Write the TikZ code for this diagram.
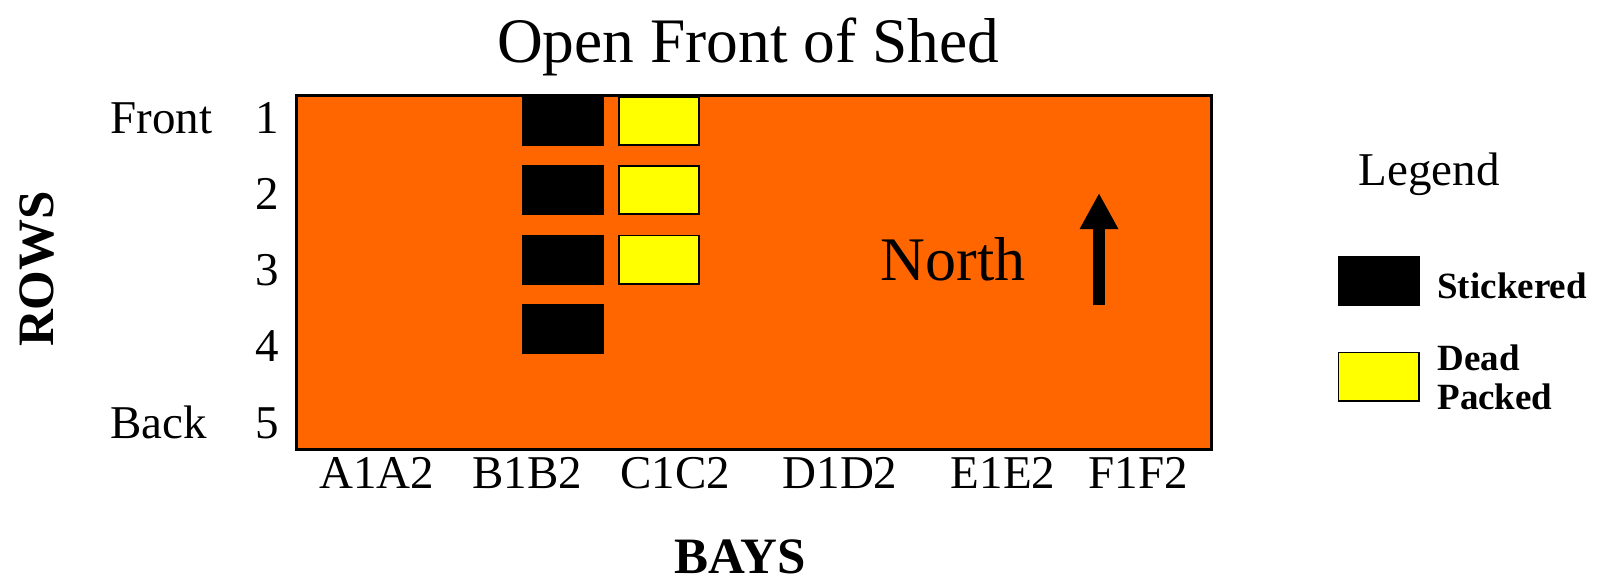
\documentclass[tikz,border=0pt]{standalone}
\usepackage{fontspec}
\setmainfont{Liberation Serif}
\usetikzlibrary{arrows.meta}
\definecolor{shed}{HTML}{FF6600}
\definecolor{dp}{HTML}{FFFF00}
\begin{document}
\begin{tikzpicture}[x=0.5pt,y=-0.5pt,
  lbl/.style={anchor=base, inner sep=0pt, font=\fontsize{23.5}{28}\selectfont},
  stick/.style={fill=black, inner sep=0pt, minimum width=41pt, minimum height=25pt},
  dead/.style={fill=dp, draw=black, line width=0.8pt, inner sep=0pt, minimum width=40.2pt, minimum height=24.2pt},
  legtxt/.style={anchor=base west, inner sep=0pt, font=\fontsize{18.5}{22}\selectfont\bfseries}]
\useasboundingbox (0,0) rectangle (1606,579);
% shed
\node[fill=shed, inner sep=0pt, minimum width=457pt, minimum height=176.5pt] (shed) at (754,272.5) {};
% stickered stacks
\node[stick] (s1) at (563,121) {};
\node[stick] (s2) at (563,190) {};
\node[stick] (s3) at (563,259.5) {};
\node[stick] (s4) at (563,329) {};
% dead packed stacks
\node[dead] (d1) at (659,121) {};
\node[dead] (d2) at (659,190) {};
\node[dead] (d3) at (659,259.5) {};
\draw[line width=1.2pt] (shed.north west) rectangle (shed.south east);
% title
\node[anchor=base, inner sep=0pt, font=\fontsize{31.7}{38}\selectfont] (title) at (748,62) {Open Front of Shed};
% rows
\node[lbl, anchor=base west] (front) at (110,133) {Front};
\node[lbl, anchor=base west] (back) at (110,438) {Back};
\node[lbl] (r1) at (267,133) {1};
\node[lbl] (r2) at (267,209) {2};
\node[lbl] (r3) at (267,285) {3};
\node[lbl] (r4) at (267,361) {4};
\node[lbl] (r5) at (267,438) {5};
\node[anchor=base, inner sep=0pt, rotate=90, font=\fontsize{25.5}{30}\selectfont\bfseries] (rows) at (53,269) {ROWS};
% bays
\node[lbl] (ba) at (377,488) {A1A2};
\node[lbl] (bb) at (527,488) {B1B2};
\node[lbl] (bc) at (675,488) {C1C2};
\node[lbl] (bd) at (840,488) {D1D2};
\node[lbl] (be) at (1003,488) {E1E2};
\node[lbl] (bf) at (1138,488) {F1F2};
\node[anchor=base, inner sep=0pt, text depth=0pt, font=\fontsize{25.5}{30}\selectfont\bfseries] (bays) at (740,573) {BAYS};
% north
\node[anchor=base, inner sep=0pt, font=\fontsize{31}{36}\selectfont] (north) at (953,280) {North};
\coordinate (arrbot) at (1099,305);
\coordinate (arrtop) at (1099,193);
\draw[line width=6pt, -{Triangle[width=18pt,length=18pt]}] (arrbot) -- (arrtop);
% legend
\node[lbl] (legend) at (1429,185) {Legend};
\node[stick] (ls) at (1379,281) {};
\node[dead] (ld) at (1378.5,376.5) {};
\node[legtxt] (lst) at (1437,298) {Stickered};
\node[legtxt] (ldt1) at (1437,370) {Dead};
\node[legtxt] (ldt2) at (1437,409) {Packed};
\end{tikzpicture}
\end{document}
